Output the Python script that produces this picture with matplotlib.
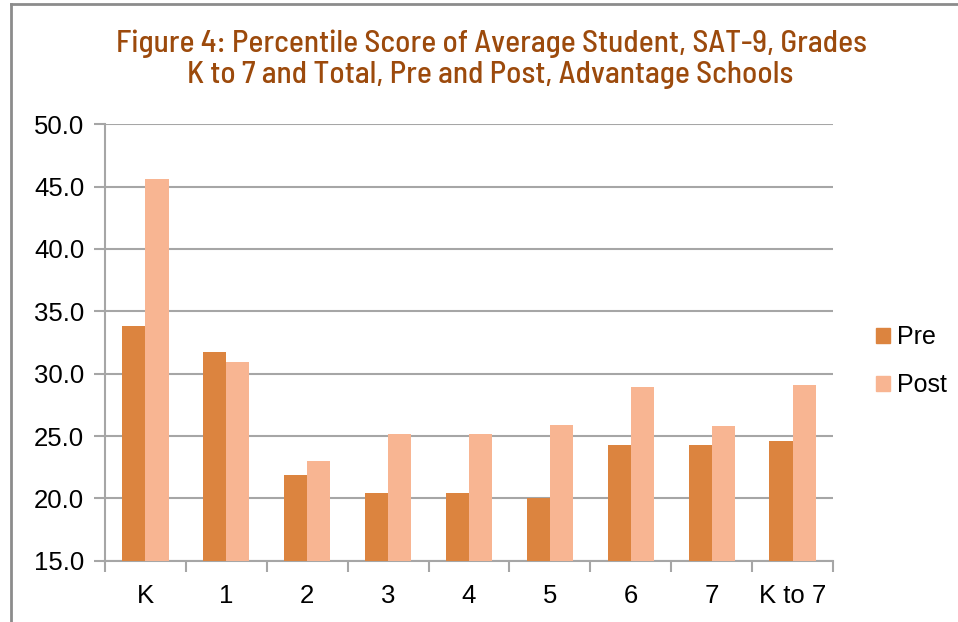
import matplotlib
matplotlib.use("Agg")
import matplotlib.pyplot as plt
from matplotlib.patches import Patch
from matplotlib.lines import Line2D
import numpy as np

categories = ["K", "1", "2", "3", "4", "5", "6", "7", "K to 7"]
pre = [33.8, 31.7, 21.9, 20.4, 20.4, 20.0, 24.3, 24.3, 24.6]
post = [45.6, 30.9, 23.0, 25.2, 25.2, 25.9, 28.9, 25.8, 29.1]
yticks = [15.0, 20.0, 25.0, 30.0, 35.0, 40.0, 45.0, 50.0]
title_lines = ["Figure 4: Percentile Score of Average Student, SAT-9, Grades",
               "K to 7 and Total, Pre and Post, Advantage Schools"]

pre_color = "#DC843F"
post_color = "#F8B592"
grid_color = "#A6A6A6"
title_color = "#9C4A0C"

plt.rcParams['font.family'] = ['Liberation Sans', 'DejaVu Sans']

fig = plt.figure(figsize=(9.58, 6.22), dpi=100)
W, H = 958, 622
ax = fig.add_axes([105 / W, (H - 560.7) / H, (833 - 105) / W, (560.7 - 124.3) / H])

x = np.arange(len(categories))
w = 0.286
ax.bar(x - w / 2, [v - 15 for v in pre], w, bottom=15, color=pre_color, zorder=3, label="Pre")
ax.bar(x + w / 2, [v - 15 for v in post], w, bottom=15, color=post_color, zorder=3, label="Post")

ax.set_xlim(-0.5, len(categories) - 0.5)
ax.set_ylim(15, 50)
ax.set_yticks(yticks)
ax.set_yticklabels([f"{t:.1f}" for t in yticks], fontsize=18.5)
ax.set_xticks(x)
ax.set_xticklabels(categories, fontsize=18.5)
ax.set_xticks(np.arange(len(categories) + 1) - 0.5, minor=True)
ax.tick_params(axis='x', which='major', length=0, pad=17)
ax.tick_params(axis='x', which='minor', length=8, width=1.5, color=grid_color, direction='out')
ax.tick_params(axis='y', length=8, width=1.5, color=grid_color, pad=7)
ax.yaxis.grid(True, color=grid_color, linewidth=1.5, zorder=0)
ax.set_axisbelow(True)
for s in ['top', 'right']:
    ax.spines[s].set_visible(False)
for s in ['left', 'bottom']:
    ax.spines[s].set_color(grid_color)
    ax.spines[s].set_linewidth(1.5)

handles = [Patch(color=pre_color, label="Pre"), Patch(color=post_color, label="Post")]
fig.legend(handles=handles, loc='center left', bbox_to_anchor=(866 / W, 1 - 361 / H),
           frameon=False, fontsize=18, handlelength=0.55, handleheight=0.55,
           handletextpad=0.3, labelspacing=0.95, borderaxespad=0)

tfam = ['Barlow Semi Condensed', 'Asap Condensed', 'DejaVu Sans']
t1 = fig.text(491 / W, 1 - 52 / H, title_lines[0], ha='center', va='baseline', fontsize=20,
              fontweight=500, color=title_color, family=tfam)
t2 = fig.text(490 / W, 1 - 83 / H, title_lines[1], ha='center', va='baseline', fontsize=20,
              fontweight=500, color=title_color, family=tfam)
r = fig.canvas.get_renderer()
wid = t1.get_window_extent(r).width
fs = 20 * 750 / wid
t1.set_fontsize(fs)
t2.set_fontsize(fs)

fig.add_artist(Line2D([11 / W, 11 / W], [0, 1 - 4 / H], color="#8C8C8C", linewidth=2))
fig.add_artist(Line2D([11 / W, 1], [1 - 4 / H, 1 - 4 / H], color="#8C8C8C", linewidth=2))

fig.savefig("out.png", dpi=100)
